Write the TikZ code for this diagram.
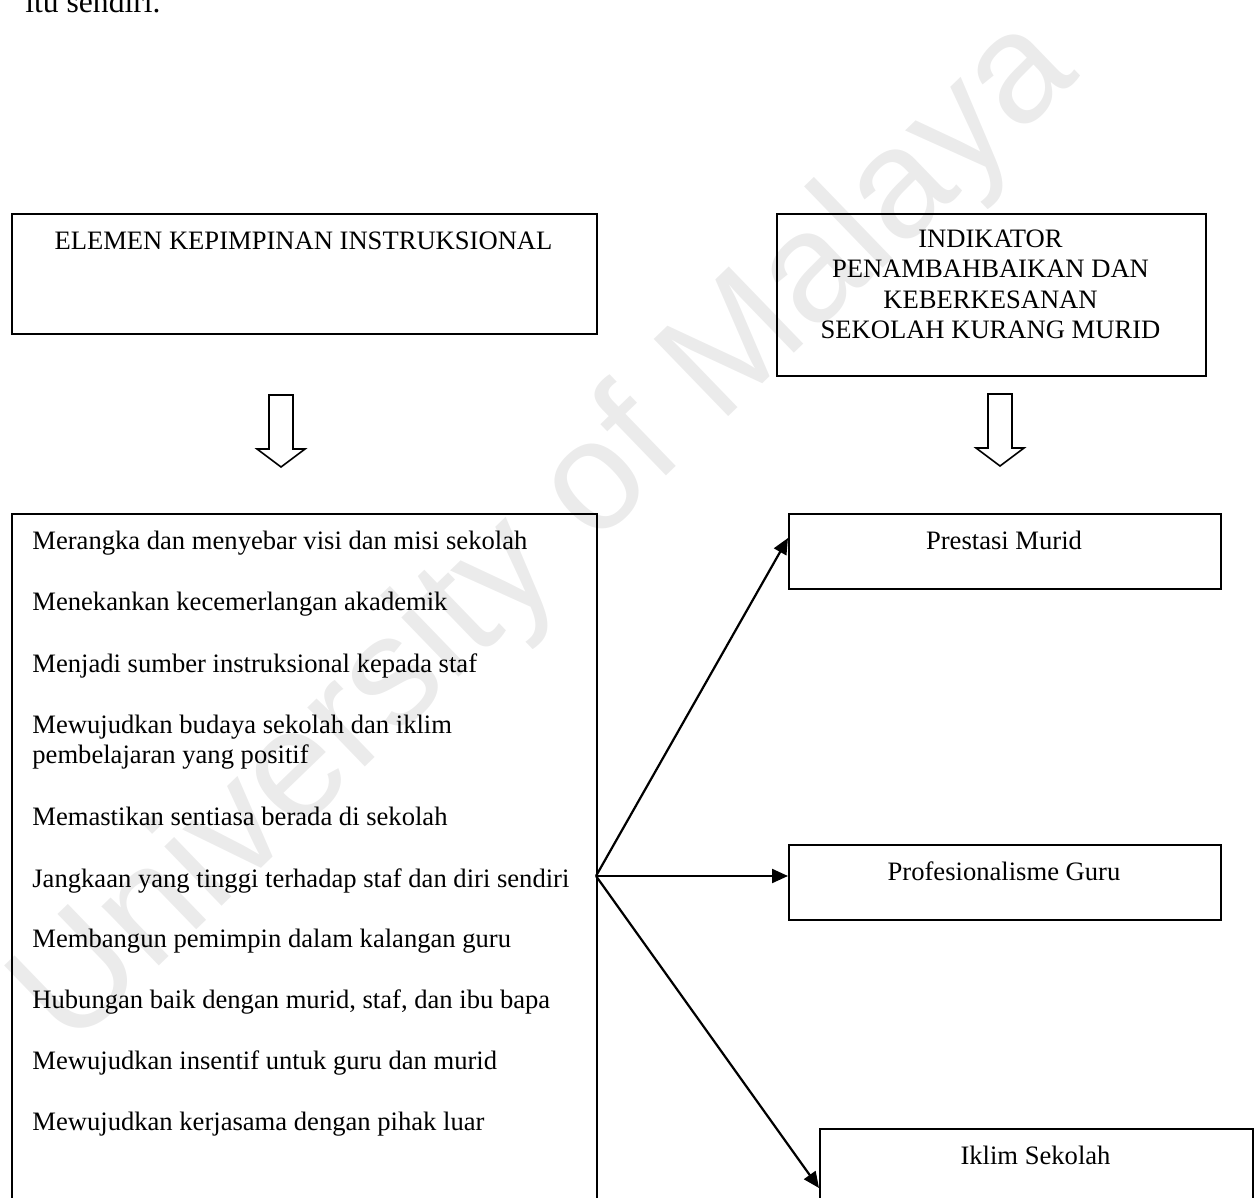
\documentclass[tikz,border=0pt]{standalone}
\usepackage{fontspec}
\setmainfont{Liberation Serif}
\newfontfamily\wmfont{Liberation Sans}
\usetikzlibrary{arrows.meta,positioning}

\tikzset{
	box/.style={draw, line width=1pt, anchor=north west, inner sep=0pt},
	rowtext/.style={anchor=base west, inner sep=0pt, font=\fontsize{13.3}{15.2}\selectfont},
	headtext/.style={anchor=base, inner sep=0pt, font=\fontsize{13.3}{15.2}\selectfont},
	link/.style={line width=1.1pt, -{Triangle[length=8pt,width=7pt]}},
	hollow/.style={draw, line width=0.8pt, fill=white},
	turun/.pic={\draw[hollow] (-12,0) -- (12,0) -- (12,54) -- (24,54) -- (0,72) -- (-24,54) -- (-12,54) -- cycle;}
}

\begin{document}
\begin{tikzpicture}[x=0.5pt, y=-0.5pt]
	\clip (0,0) rectangle (1259,1198); %page frame, 1 unit = 1 px

	%WATERMARK
	\node[rotate=44, inner sep=0pt, text=black!8, font=\wmfont\fontsize{78}{78}\selectfont] (tera) at (548,535) {University of Malaya};

	%TEXT ABOVE
	\node[anchor=base west, inner sep=0pt, font=\fontsize{15.8}{19}\selectfont] (sambungan) at (25,13) {itu sendiri.};

	%BOXES
	\node[box, minimum width=292.5pt, minimum height=60pt] (elemen) at (11,213) {};
	\node[box, minimum width=214.5pt, minimum height=81pt] (indikator) at (776,213) {};
	\node[box, minimum width=292.5pt, minimum height=360pt] (senarai) at (11,513) {}; %runs past the bottom
	\node[box, minimum width=216pt, minimum height=37.5pt] (prestasi) at (788,513) {};
	\node[box, minimum width=216pt, minimum height=37.5pt] (profesional) at (788,844) {};
	\node[box, minimum width=216.5pt, minimum height=37.5pt] (iklim) at (819,1128) {};

	%TITLES
	\node[headtext] (elementajuk) at (303.5,250) {ELEMEN KEPIMPINAN INSTRUKSIONAL};
	\foreach \baris/\yy [count=\i] in {INDIKATOR/248, PENAMBAHBAIKAN DAN/278, KEBERKESANAN/309, SEKOLAH KURANG MURID/339}
		\node[headtext] (indik\i) at (990.5,\yy) {\baris};

	%BLOCK ARROWS
	\pic at (281,395) {turun};
	\pic at (1000,394) {turun};

	%LIST OF ELEMENTS
	\foreach \baris/\yy [count=\i] in {Merangka dan menyebar visi dan misi sekolah/549, Menekankan kecemerlangan akademik/610, Menjadi sumber instruksional kepada staf/672, Mewujudkan budaya sekolah dan iklim/733, pembelajaran yang positif/763, Memastikan sentiasa berada di sekolah/825, Jangkaan yang tinggi terhadap staf dan diri sendiri/887, Membangun pemimpin dalam kalangan guru/947, {Hubungan baik dengan murid, staf, dan ibu bapa}/1008, Mewujudkan insentif untuk guru dan murid/1069, Mewujudkan kerjasama dengan pihak luar/1130}
		\node[rowtext] (baris\i) at (32,\yy) {\baris};

	%INDICATORS
	\node[headtext] (prestasitxt) at (1004,549) {Prestasi Murid};
	\node[headtext] (profesionaltxt) at (1004,880) {Profesionalisme Guru};
	\node[headtext] (ikliimtxt) at (1035.5,1164) {Iklim Sekolah};

	%ARROWS
	\coordinate (hub) at (596,876); %right side of list, level of line 7
	\draw[link] (hub) -- ([yshift=6.75pt]prestasi.west);
	\draw[link] (hub) -- (hub -| profesional.west);
	\draw[link] (hub) -- ([yshift=-10.75pt]iklim.west);
\end{tikzpicture}
\end{document}
